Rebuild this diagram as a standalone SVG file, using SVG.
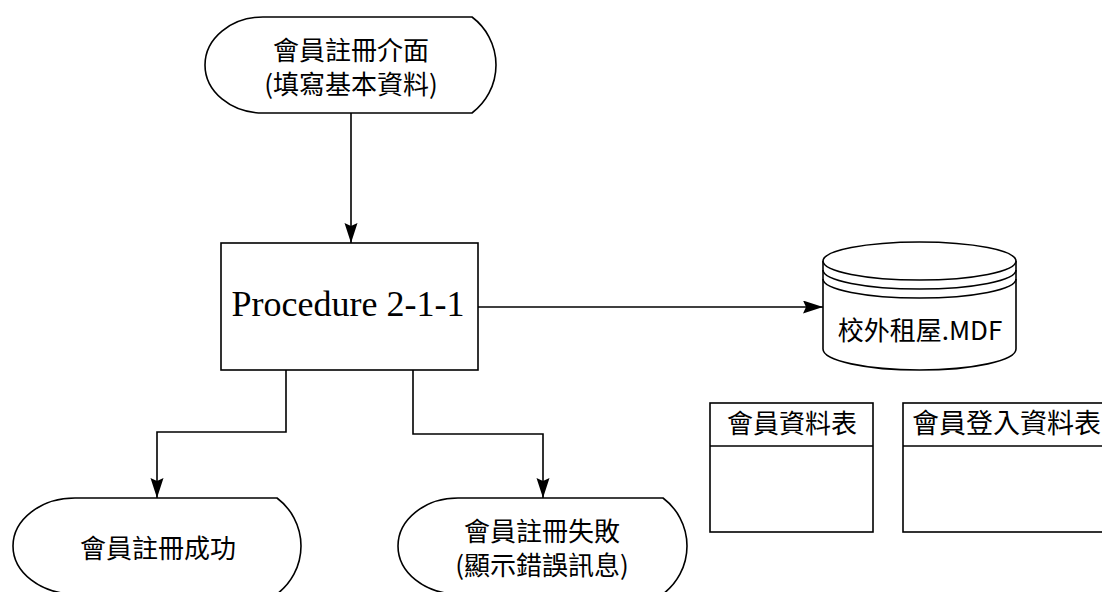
<svg xmlns="http://www.w3.org/2000/svg" width="1102" height="592" viewBox="0 0 1102 592">
<style>
.sh{fill:#fff;stroke:#000;stroke-width:1.6}
.cn{fill:none;stroke:#000;stroke-width:1.6}
.cj{font-family:"Noto Sans CJK TC","Noto Sans CJK SC",sans-serif;font-size:26px;fill:#000;text-anchor:middle}
.pr{font-family:"Liberation Serif",serif;font-size:36px;fill:#000;text-anchor:middle}
</style>
<defs>
<marker id="ah" markerUnits="userSpaceOnUse" markerWidth="22" markerHeight="14" refX="20" refY="6.5" orient="auto">
<path d="M0,0 L20,6.5 L0,13 L3,6.5 Z" fill="#000"/>
</marker>
</defs>
<rect width="1102" height="592" fill="#fff"/>
<g id="connectors">
<path class="cn" d="M351,113 V243" marker-end="url(#ah)"/>
<path class="cn" d="M478,307 H823" marker-end="url(#ah)"/>
<path class="cn" d="M286,370 V432 H157 V498" marker-end="url(#ah)"/>
<path class="cn" d="M413,370 V434 H543 V498" marker-end="url(#ah)"/>
</g>
<g id="n_register_ui">
<path class="sh" d="M263,17 H472 A60,60 0 0 1 472,113 H263 A58,48 0 0 1 263,17 Z"/>
<text class="cj" x="351" y="60">會員註冊介面</text>
<text class="cj" x="351" y="94">(填寫基本資料)</text>
</g>
<g id="n_procedure">
<rect class="sh" x="221" y="243" width="257" height="127"/>
<text class="pr" x="348" y="316">Procedure 2-1-1</text>
</g>
<g id="n_db">
<path class="sh" d="M823,261 V349 A96.5,21 0 0 0 1016,349 V261"/>
<ellipse class="sh" cx="919.5" cy="261" rx="96.5" ry="19"/>
<path class="cn" d="M823,270 A96.5,19 0 0 0 1016,270"/>
<path class="cn" d="M823,279 A96.5,19 0 0 0 1016,279"/>
<text class="cj" x="920" y="340">校外租屋.MDF</text>
</g>
<g id="n_member_table">
<rect class="sh" x="710" y="403" width="163" height="129"/>
<line class="cn" x1="710" y1="446" x2="873" y2="446"/>
<text class="cj" x="792" y="433">會員資料表</text>
</g>
<g id="n_login_table">
<rect class="sh" x="903" y="403" width="210" height="129"/>
<line class="cn" x1="903" y1="446" x2="1110" y2="446"/>
<text class="cj" x="912" y="433" style="text-anchor:start;font-size:27px">會員登入資料表</text>
</g>
<g id="n_success">
<path class="sh" d="M75,498 H277 A60,60 0 0 1 277,594 H75 A62,48 0 0 1 75,498 Z"/>
<text class="cj" x="158" y="558">會員註冊成功</text>
</g>
<g id="n_fail">
<path class="sh" d="M458,498 H663 A60,60 0 0 1 663,594 H458 A60,48 0 0 1 458,498 Z"/>
<text class="cj" x="542" y="541">會員註冊失敗</text>
<text class="cj" x="542" y="575">(顯示錯誤訊息)</text>
</g>
</svg>
